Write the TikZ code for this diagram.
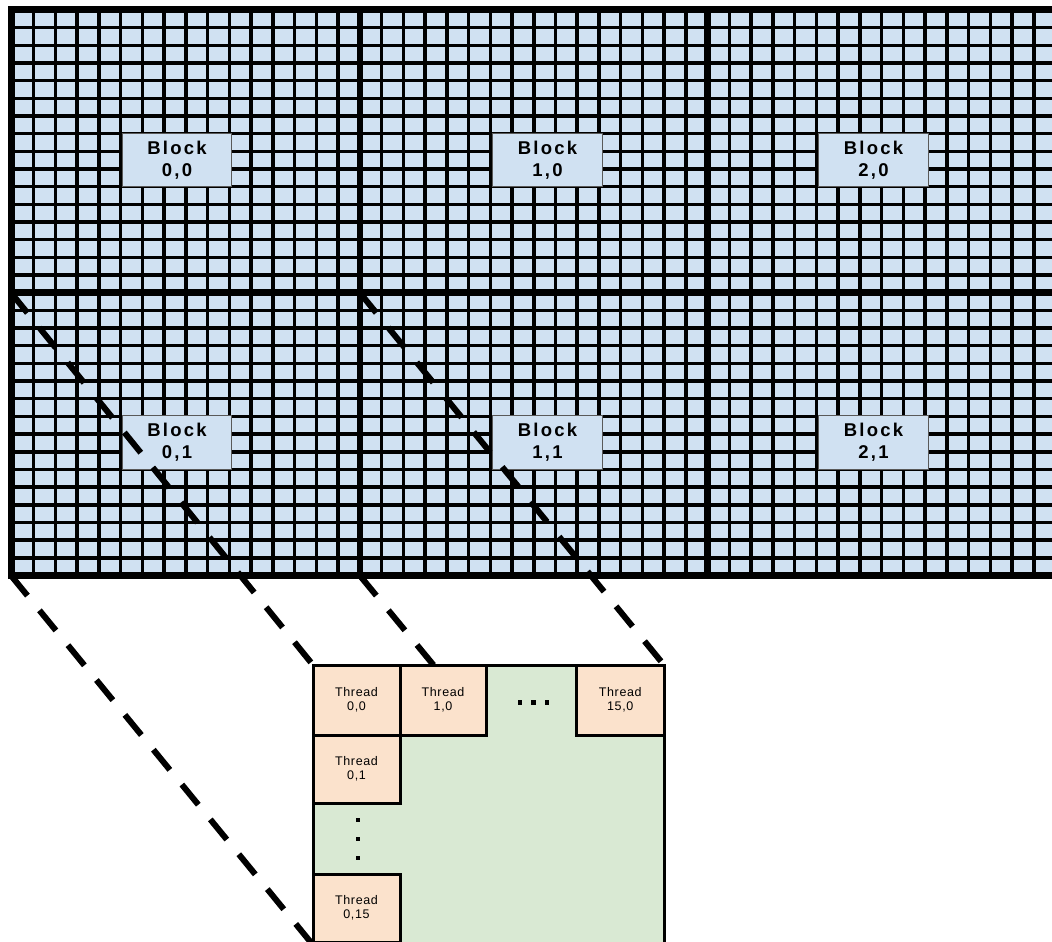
\documentclass[tikz,border=0pt]{standalone}
\usepackage{fontspec}
\setmainfont{Liberation Sans}
\definecolor{cellblue}{RGB}{208,225,242}
\definecolor{peach}{RGB}{251,226,204}
\definecolor{tgreen}{RGB}{217,233,211}
\pgfdeclarelayer{mid}
\pgfdeclarelayer{front}
\pgfsetlayers{main,mid,front}
\tikzset{
  cellline/.style={line width=3.5pt, black},
  blockline/.style={line width=6.5pt, black},
  outerline/.style={line width=7pt, black, line join=miter},
  blabel/.style={draw=black!65, line width=0.8pt, fill=cellblue, inner sep=0pt, outer sep=0pt,
    minimum width=109.5pt, minimum height=53.5pt, align=center,
    font=\fontsize{18.5}{22}\selectfont\bfseries\addfontfeatures{LetterSpace=12}},
  zoomline/.style={line width=6pt, black, dash pattern=on 26pt off 19pt},
  tregion/.style={draw, line width=3pt, fill=tgreen, inner sep=0pt, outer sep=0pt, anchor=north west},
  threadbox/.style={draw, line width=3pt, fill=peach, inner sep=0pt, outer sep=0pt, anchor=north west,
    align=center, font=\fontsize{12.5}{13.5}\selectfont\addfontfeatures{LetterSpace=5}},
  dotsq/.style={fill=black, minimum size=4.5pt, inner sep=0pt, outer sep=0pt}
}
\begin{document}
\begin{tikzpicture}[x=1pt,y=-1pt]
\clip (0,0) rectangle (1052,942);
\fill[white] (0,0) rectangle (1052,942);
% grid
\fill[cellblue] (11,10) rectangle (1060,575.5);
\foreach \i in {1,...,47} \draw[cellline] ({12+21.74*\i},10) -- ({12+21.74*\i},575.5);
\foreach \j in {1,...,31} \draw[cellline] (11,{10+17.67*\j}) -- (1060,{10+17.67*\j});
% block borders
\draw[blockline] (359.8,10) -- (359.8,575.5);
\draw[blockline] (707.7,10) -- (707.7,575.5);
\draw[blockline] (11,292.7) -- (1060,292.7);
\draw[outerline] (1060,10) -- (11,10) -- (11,575.5) -- (1060,575.5);
% block labels
\node[blabel] (b00) at (177,159.8) {Block\\0,0};
\node[blabel] (b10) at (547.5,159.8) {Block\\1,0};
\node[blabel] (b20) at (873.5,159.8) {Block\\2,0};
\node[blabel] (b01) at (177,442.5) {Block\\0,1};
\node[blabel] (b11) at (547.5,442.5) {Block\\1,1};
\node[blabel] (b21) at (873.5,442.5) {Block\\2,1};
% corners of block 0,1
\coordinate (ctl) at (11,292.7);
\coordinate (cbl) at (11,575.5);
\coordinate (ctr) at (359.8,292.7);
\coordinate (cbr) at (359.8,575.5);
% thread block
\begin{pgfonlayer}{front}
\node[tregion, minimum width=351pt, minimum height=280pt] (tb) at (313,665) {};
\node[threadbox, minimum width=87pt, minimum height=70pt] (t00) at (313,665) {Thread\\0,0};
\node[threadbox, minimum width=86pt, minimum height=70pt] (t10) at (400,665) {Thread\\1,0};
\node[threadbox, minimum width=87.5pt, minimum height=70pt] (t150) at (576.5,665) {Thread\\15,0};
\node[threadbox, minimum width=87pt, minimum height=68pt] (t01) at (313,735) {Thread\\0,1};
\node[threadbox, minimum width=87pt, minimum height=68pt] (t015) at (313,874) {Thread\\0,15};
\node[dotsq] (h1) at (520,702.5) {};
\node[dotsq] (h2) at (533.5,702.5) {};
\node[dotsq] (h3) at (547,702.5) {};
\node[dotsq] (v1) at (358,820) {};
\node[dotsq] (v2) at (358,839) {};
\node[dotsq] (v3) at (358,858) {};
\end{pgfonlayer}
% zoom lines
\begin{pgfonlayer}{mid}
\draw[zoomline] (ctl) -- (tb.north west);
\draw[zoomline] (cbl) -- (tb.south west);
\draw[zoomline] (ctr) -- (tb.north east);
\draw[zoomline] (cbr) -- (tb.south east);
\end{pgfonlayer}
\end{tikzpicture}
\end{document}
